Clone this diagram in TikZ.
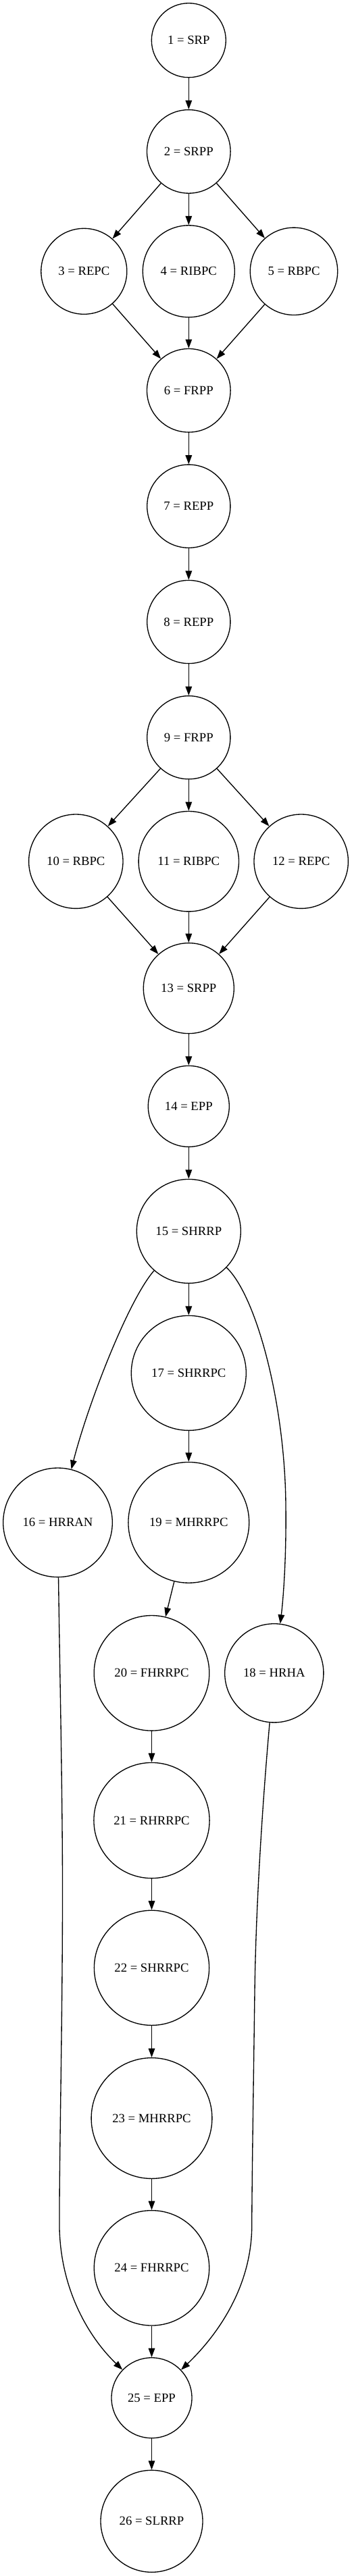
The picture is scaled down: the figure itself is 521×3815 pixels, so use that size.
\documentclass[tikz,border=0pt]{standalone}
\usepackage{fontspec}
\setmainfont{Liberation Serif}
\usetikzlibrary{arrows.meta}
\begin{document}
\begin{tikzpicture}[x=0.75pt,y=-0.75pt,
  nd/.style={circle,draw,line width=1pt,inner sep=0pt,minimum size=#1*1.5pt,
    font=\fontsize{14}{16.8}\selectfont},
  edge/.style={line width=1pt,-{Triangle[length=10pt,width=7.2pt]}}]
\useasboundingbox (0,0) rectangle (521,3815);
\node[nd=55]   (n1)  at (279.3,59.7)   {1 = SRP};
\node[nd=61.8] (n2)  at (279.3,224.4)  {2 = SRPP};
\node[nd=63.5] (n3)  at (124.3,401.8)  {3 = REPC};
\node[nd=68]   (n4)  at (279.3,401.8)  {4 = RIBPC};
\node[nd=64.7] (n5)  at (435,401.8)    {5 = RBPC};
\node[nd=61.8] (n6)  at (279.3,578.3)  {6 = FRPP};
\node[nd=61.6] (n7)  at (279.3,749.7)  {7 = REPP};
\node[nd=61.6] (n8)  at (279.3,921)    {8 = REPP};
\node[nd=61.6] (n9)  at (279.3,1092.2) {9 = FRPP};
\node[nd=69.7] (n10) at (112.3,1275.7) {10 = RBPC};
\node[nd=74.2] (n11) at (279.3,1275.7) {11 = RIBPC};
\node[nd=69.7] (n12) at (445.7,1275.7) {12 = REPC};
\node[nd=67]   (n13) at (279.3,1463.6) {13 = SRPP};
\node[nd=60]   (n14) at (279.3,1638.4) {14 = EPP};
\node[nd=77]   (n15) at (279.3,1823.4) {15 = SHRRP};
\node[nd=85]   (n17) at (279.3,2033.4) {17 = SHRRPC};
\node[nd=80.8] (n16) at (85.5,2254.8)  {16 = HRRAN};
\node[nd=89.4] (n19) at (279.3,2254.8) {19 = MHRRPC};
\node[nd=85.3] (n20) at (224.5,2477.8) {20 = FHRRPC};
\node[nd=73.1] (n18) at (405.8,2477.8) {18 = HRHA};
\node[nd=85.6] (n21) at (224.5,2696)   {21 = RHRRPC};
\node[nd=85.1] (n22) at (224.5,2914.3) {22 = SHRRPC};
\node[nd=89.4] (n23) at (224.5,3137)   {23 = MHRRPC};
\node[nd=85.2] (n24) at (224.5,3358.8) {24 = FHRRPC};
\node[nd=59.5] (n25) at (224.5,3551.2) {25 = EPP};
\node[nd=75.5] (n26) at (224.5,3733.8) {26 = SLRRP};
\draw[edge] (n1) -- (n2);
\draw[edge] (n2) -- (n3);
\draw[edge] (n2) -- (n4);
\draw[edge] (n2) -- (n5);
\draw[edge] (n3) -- (n6);
\draw[edge] (n4) -- (n6);
\draw[edge] (n5) -- (n6);
\draw[edge] (n6) -- (n7);
\draw[edge] (n7) -- (n8);
\draw[edge] (n8) -- (n9);
\draw[edge] (n9) -- (n10);
\draw[edge] (n9) -- (n11);
\draw[edge] (n9) -- (n12);
\draw[edge] (n10) -- (n13);
\draw[edge] (n11) -- (n13);
\draw[edge] (n12) -- (n13);
\draw[edge] (n13) -- (n14);
\draw[edge] (n14) -- (n15);
\draw[edge] (n15) -- (n17);
\draw[edge] (n17) -- (n19);
\draw[edge] (n19) -- (n20);
\draw[edge] (n20) -- (n21);
\draw[edge] (n21) -- (n22);
\draw[edge] (n22) -- (n23);
\draw[edge] (n23) -- (n24);
\draw[edge] (n24) -- (n25);
\draw[edge] (n25) -- (n26);
\draw[edge] (n15) .. controls (190,1925) and (130,2080) .. (n16);
\draw[edge] (n15) .. controls (380,1920) and (422,2080) .. (423,2230)
  .. controls (424,2310) and (419,2370) .. (n18);
\draw[edge] (n16) .. controls (88,2450) and (92.5,2650) .. (92.5,2800)
  .. controls (92.5,3000) and (87.5,3200) .. (88,3300)
  .. controls (90,3390) and (130,3460) .. (n25);
\draw[edge] (n18) .. controls (392,2630) and (379,2800) .. (377,2950)
  .. controls (375,3100) and (373,3220) .. (372.7,3300)
  .. controls (371,3390) and (320,3460) .. (n25);
\end{tikzpicture}
\end{document}
